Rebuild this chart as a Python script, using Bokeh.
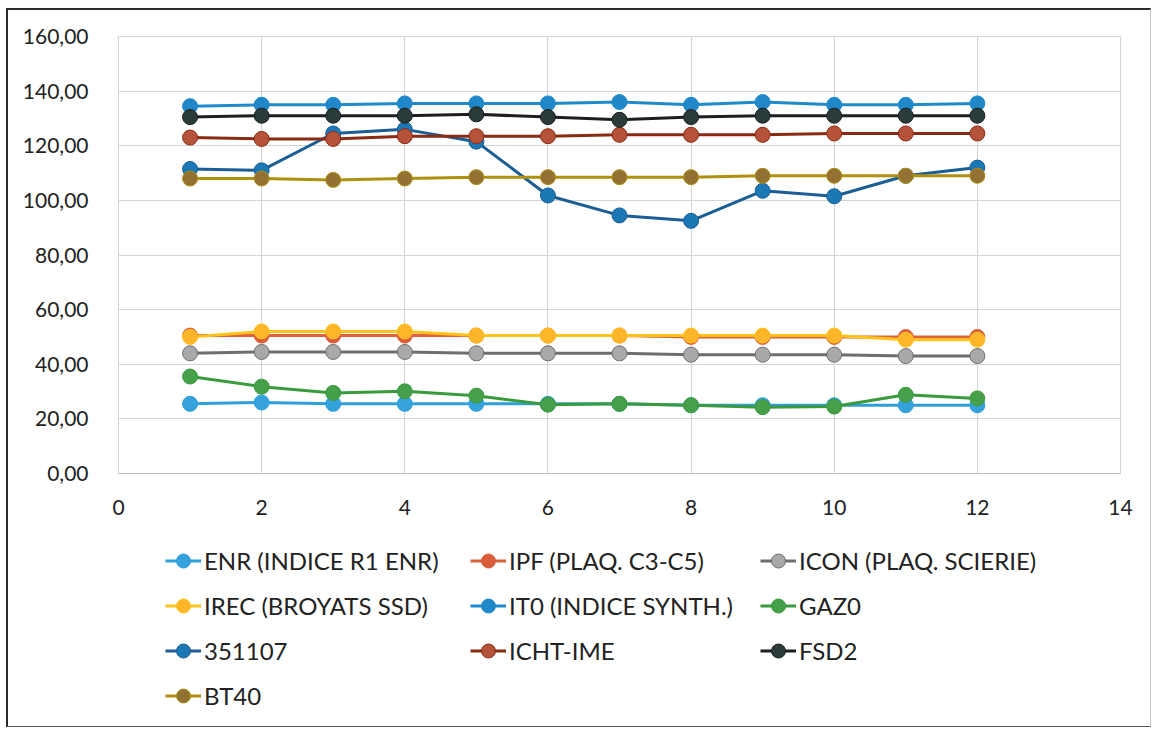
from bokeh.plotting import figure
from bokeh.layouts import column
from bokeh.models import Legend, LegendItem, Range1d, FixedTicker
from bokeh.embed import file_html
from bokeh.resources import INLINE

months = [1, 2, 3, 4, 5, 6, 7, 8, 9, 10, 11, 12]

enr = [25.5, 26.0, 25.5, 25.5, 25.5, 25.5, 25.5, 25.0, 25.0, 25.0, 25.0, 25.0]
ipf = [50.5, 50.5, 50.5, 50.5, 50.5, 50.5, 50.5, 50.0, 50.0, 50.0, 50.0, 50.0]
icon = [44.0, 44.5, 44.5, 44.5, 44.0, 44.0, 44.0, 43.5, 43.5, 43.5, 43.0, 43.0]
irec = [50.0, 52.0, 52.0, 52.0, 50.5, 50.5, 50.5, 50.5, 50.5, 50.5, 49.0, 49.0]
it0 = [134.5, 135.0, 135.0, 135.5, 135.5, 135.5, 136.0, 135.0, 136.0, 135.0, 135.0, 135.5]
gaz0 = [35.5, 31.8, 29.5, 30.1, 28.5, 25.2, 25.5, 25.0, 24.3, 24.5, 28.8, 27.5]
s351107 = [111.5, 111.0, 124.5, 126.0, 121.5, 101.8, 94.5, 92.5, 103.5, 101.5, 109.0, 112.0]
icht = [123.0, 122.5, 122.5, 123.5, 123.5, 123.5, 124.0, 124.0, 124.0, 124.5, 124.5, 124.5]
fsd2 = [130.5, 131.0, 131.0, 131.0, 131.5, 130.5, 129.5, 130.5, 131.0, 131.0, 131.0, 131.0]
bt40 = [108.0, 108.0, 107.5, 108.0, 108.5, 108.5, 108.5, 108.5, 109.0, 109.0, 109.0, 109.0]

series_names = ["ENR (INDICE R1 ENR)", "IPF (PLAQ. C3-C5)", "ICON (PLAQ. SCIERIE)",
                "IREC (BROYATS SSD)", "IT0 (INDICE SYNTH.)", "GAZ0",
                "351107", "ICHT-IME", "FSD2", "BT40"]
series_values = [enr, ipf, icon, irec, it0, gaz0, s351107, icht, fsd2, bt40]
line_colors = ["#2E9FDB", "#E0603A", "#6E6E6E", "#FFC21A", "#1F8ACB", "#3A9A3E",
               "#1A5E95", "#8B2A12", "#1B1F22", "#B09010"]
marker_colors = ["#35A2DC", "#D95C3C", "#A9A9A9", "#FDB52A", "#2088C8", "#46A04A",
                 "#1C77B5", "#B5533A", "#2A3B39", "#927133"]

y_ticks = [0, 20, 40, 60, 80, 100, 120, 140, 160]
y_tick_labels = ["0,00", "20,00", "40,00", "60,00", "80,00", "100,00", "120,00", "140,00", "160,00"]
x_ticks = [0, 2, 4, 6, 8, 10, 12, 14]

# main chart
p = figure(width=1142, height=520, output_backend="svg", toolbar_location=None,
           x_range=Range1d(0, 14), y_range=Range1d(0, 160),
           min_border_left=110, min_border_right=30, min_border_top=26, min_border_bottom=57)
p.outline_line_color = "#D4D4D4"
p.background_fill_color = "white"
p.border_fill_color = "white"

p.xaxis.ticker = FixedTicker(ticks=x_ticks)
p.yaxis.ticker = FixedTicker(ticks=y_ticks)
p.yaxis.major_label_overrides = {t: l for t, l in zip(y_ticks, y_tick_labels)}
for ax in (p.xaxis, p.yaxis):
    ax.axis_line_color = "#BFBFBF"
    ax.major_tick_line_color = None
    ax.minor_tick_line_color = None
    ax.major_label_text_font = "Lato"
    ax.major_label_text_font_size = "21px"
    ax.major_label_text_color = "#222222"
p.yaxis.axis_line_color = None
p.xaxis.major_label_standoff = 20
p.yaxis.major_label_standoff = 24
p.xgrid.grid_line_color = "#D4D4D4"
p.ygrid.grid_line_color = "#D4D4D4"
p.xgrid.ticker = FixedTicker(ticks=x_ticks)
p.ygrid.ticker = FixedTicker(ticks=y_ticks)

for name, vals, lc, mc in zip(series_names, series_values, line_colors, marker_colors):
    p.line(months, vals, line_color=lc, line_width=3)
    p.scatter(months, vals, size=15, fill_color=mc, line_color=lc, line_width=1)

# legend panel (series re-plotted off-view so the legend has glyphs to show)
q = figure(width=1142, height=196, output_backend="svg", toolbar_location=None,
           x_range=Range1d(100, 101), y_range=Range1d(0, 1),
           x_axis_location=None, y_axis_location=None,
           min_border_left=0, min_border_right=0, min_border_top=0, min_border_bottom=0)
q.outline_line_color = None
q.xgrid.visible = False
q.ygrid.visible = False
q.border_fill_color = "white"

items = {}
for name, vals, lc, mc in zip(series_names, series_values, line_colors, marker_colors):
    r1 = q.line(months, vals, line_color=lc, line_width=3)
    r2 = q.scatter(months, vals, size=15, fill_color=mc, line_color=lc, line_width=1)
    items[name] = LegendItem(label=name, renderers=[r1, r2])

columns = [
    (["ENR (INDICE R1 ENR)", "IREC (BROYATS SSD)", "351107", "BT40"], (47, 13)),
    (["IPF (PLAQ. C3-C5)", "IT0 (INDICE SYNTH.)", "ICHT-IME"], (352, 58)),
    (["ICON (PLAQ. SCIERIE)", "GAZ0", "FSD2"], (642, 58)),
]
for names, loc in columns:
    lg = Legend(items=[items[n] for n in names], location=loc, orientation="vertical",
                padding=0, margin=0, spacing=10, glyph_width=36, glyph_height=35,
                label_height=20, label_standoff=3, border_line_alpha=0,
                background_fill_alpha=0, label_text_font="Lato",
                label_text_font_size="24px", label_text_color="#222222")
    q.add_layout(lg, "center")

layout = column(p, q, spacing=0)
layout.margin = (8, 0, 0, 6)
layout.styles = {"border-top": "2px solid #2a2a2a", "border-left": "2px solid #2a2a2a",
                 "border-bottom": "1px solid #555555", "border-right": "1px solid #c8c8c8",
                 "background-color": "white"}

open("out.html", "w").write(file_html(layout, INLINE))
